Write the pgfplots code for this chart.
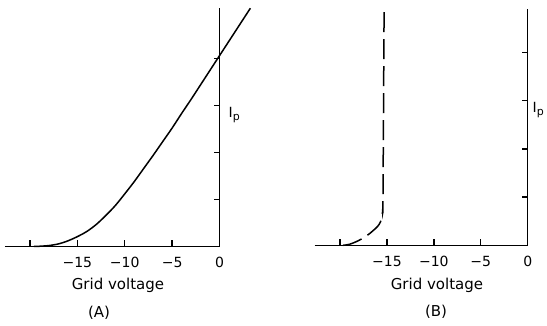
\documentclass[border=0pt]{standalone}
\usepackage{pgfplots}
\pgfplotsset{compat=1.18}
\usepackage{fontspec}
\setmainfont{DejaVu Sans}
\pgfplotstableread{
v i
-19.6 0
-19 0.005
-18 0.02
-17 0.055
-16 0.12
-15 0.21
-14 0.32
-13 0.47
-12 0.66
-11 0.87
-10 1.12
-9 1.38
-8 1.66
-7 1.94
-6 2.23
-5 2.52
-4 2.83
-3 3.13
-2 3.44
-1 3.75
0 4.06
1 4.37
2 4.68
3.26 5.07
}\curveA
\pgfplotstableread{
v i
-19.7 0
-19 0.02
-18 0.1
-17 0.22
-16.5 0.3
-16 0.39
-15.7 0.48
-15.52 0.6
-15.45 0.75
-15.42 1.0
-15.3 4.91
}\curveB
\newcommand{\ip}{I\raisebox{-0.35ex}{\fontsize{11}{11}\selectfont p}}
\begin{document}
\begin{tikzpicture}
\useasboundingbox (0,0) rectangle (547pt,326pt);
\pgfplotsset{
  every axis/.append style={
    axis x line*=bottom, axis y line*=right,
    tick align=inside, major tick length=6pt,
    axis line style={line width=1.2pt, black},
    every tick/.style={line width=1.4pt, black},
    clip=false, ytick={1,2,3,4}, yticklabels={},
    xtick={-20,-15,-10,-5,0},
    xticklabels={,−15,−10,−5,0},
    xticklabel style={font=\fontsize{14}{14}\selectfont, yshift=-7pt},
    xmax=0, ymin=0,
  }
}
\begin{axis}[at={(219.5pt,79.5pt)}, anchor=south east,
  x=9.475pt, y=47pt, xmin=-22.64, ymax=5.07]
\addplot[black, line width=1.5pt, smooth] table[x=v,y=i] {\curveA};
\node[anchor=west, font=\fontsize{14}{14}\selectfont] at (axis cs:0.6,2.8) {\ip};
\end{axis}
\begin{axis}[at={(527.7pt,80.7pt)}, anchor=south east,
  x=9.385pt, y=48.2pt, xmin=-22.7, ymax=4.91]
\addplot[black, line width=1.5pt, smooth, dash pattern=on 20pt off 7pt] table[x=v,y=i] {\curveB};
\node[anchor=west, font=\fontsize{14}{14}\selectfont] at (axis cs:0.15,2.8) {\ip};
\end{axis}
\node[font=\fontsize{15}{15}\selectfont] at (118pt,41pt) {Grid voltage};
\node[font=\fontsize{15}{15}\selectfont] at (99pt,13pt) {(A)};
\node[font=\fontsize{15}{15}\selectfont] at (437pt,41pt) {Grid voltage};
\node[font=\fontsize{15}{15}\selectfont] at (436pt,14pt) {(B)};
\end{tikzpicture}
\end{document}
